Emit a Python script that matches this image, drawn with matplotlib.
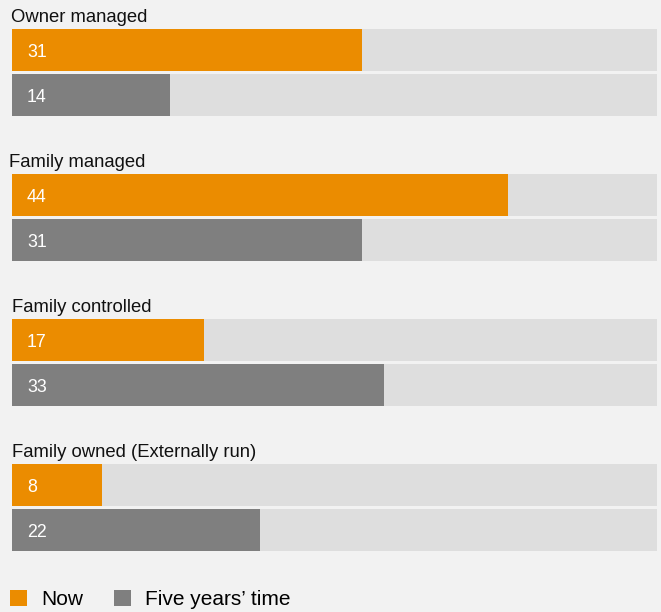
import matplotlib
matplotlib.use("Agg")
import matplotlib.pyplot as plt
from matplotlib.patches import Patch

plt.rcParams['font.family'] = ['Liberation Sans', 'DejaVu Sans']

# Data
categories = ["Owner managed", "Family managed", "Family controlled", "Family owned (Externally run)"]
now_values = [31, 44, 17, 8]
five_year_values = [14, 31, 33, 22]
series_labels = ["Now", "Five years\u2019 time"]
track_max = 57.2

# Styling
ORANGE = "#eb8c00"
GREY = "#7f7f7f"
TRACK = "#dedede"
BG = "#f2f2f2"

W, H = 661, 612
PX = 0.72  # points per pixel at 100 dpi

fig = plt.figure(figsize=(W / 100, H / 100), dpi=100, facecolor=BG)
ax = fig.add_axes([12 / W, 0, 645 / W, 1])
ax.set_facecolor(BG)
ax.set_xlim(0, track_max)
ax.set_ylim(H, 0)
ax.axis("off")

group_step = 145
first_top = 29
bar_h = 42
pair_gap = 45
title_dx_px = [-1, -3, 0, 0]

for i, cat in enumerate(categories):
    top = first_top + i * group_step
    c_now = top + bar_h / 2
    c_five = c_now + pair_gap
    # background tracks
    ax.barh([c_now, c_five], [track_max, track_max], height=bar_h, left=0,
            color=TRACK, edgecolor="none")
    ax.barh(c_now, now_values[i], height=bar_h, color=ORANGE, edgecolor="none")
    ax.barh(c_five, five_year_values[i], height=bar_h, color=GREY, edgecolor="none")
    for c, v in ((c_now, now_values[i]), (c_five, five_year_values[i])):
        ax.annotate(str(v), xy=(0, c), xytext=(15 * PX, -7 * PX), textcoords="offset points",
                    color="white", fontsize=12.8, va="baseline", ha="left")
    ax.annotate(cat, xy=(0, top), xytext=(title_dx_px[i] * PX, 7 * PX),
                textcoords="offset points", fontsize=13.3, color="#111111",
                va="baseline", ha="left")

handles = [Patch(facecolor=ORANGE, edgecolor="none"), Patch(facecolor=GREY, edgecolor="none")]
fs = 15
fig.legend(handles, series_labels, loc="center left",
           bbox_to_anchor=(10 / W, 1 - 599.5 / H),
           ncol=2, frameon=False, fontsize=fs,
           handlelength=17 * PX / fs, handleheight=17 * PX / fs,
           handletextpad=14 * PX / fs, columnspacing=31 * PX / fs,
           borderpad=0, borderaxespad=0)

fig.savefig("out.png", dpi=100, facecolor=BG)
